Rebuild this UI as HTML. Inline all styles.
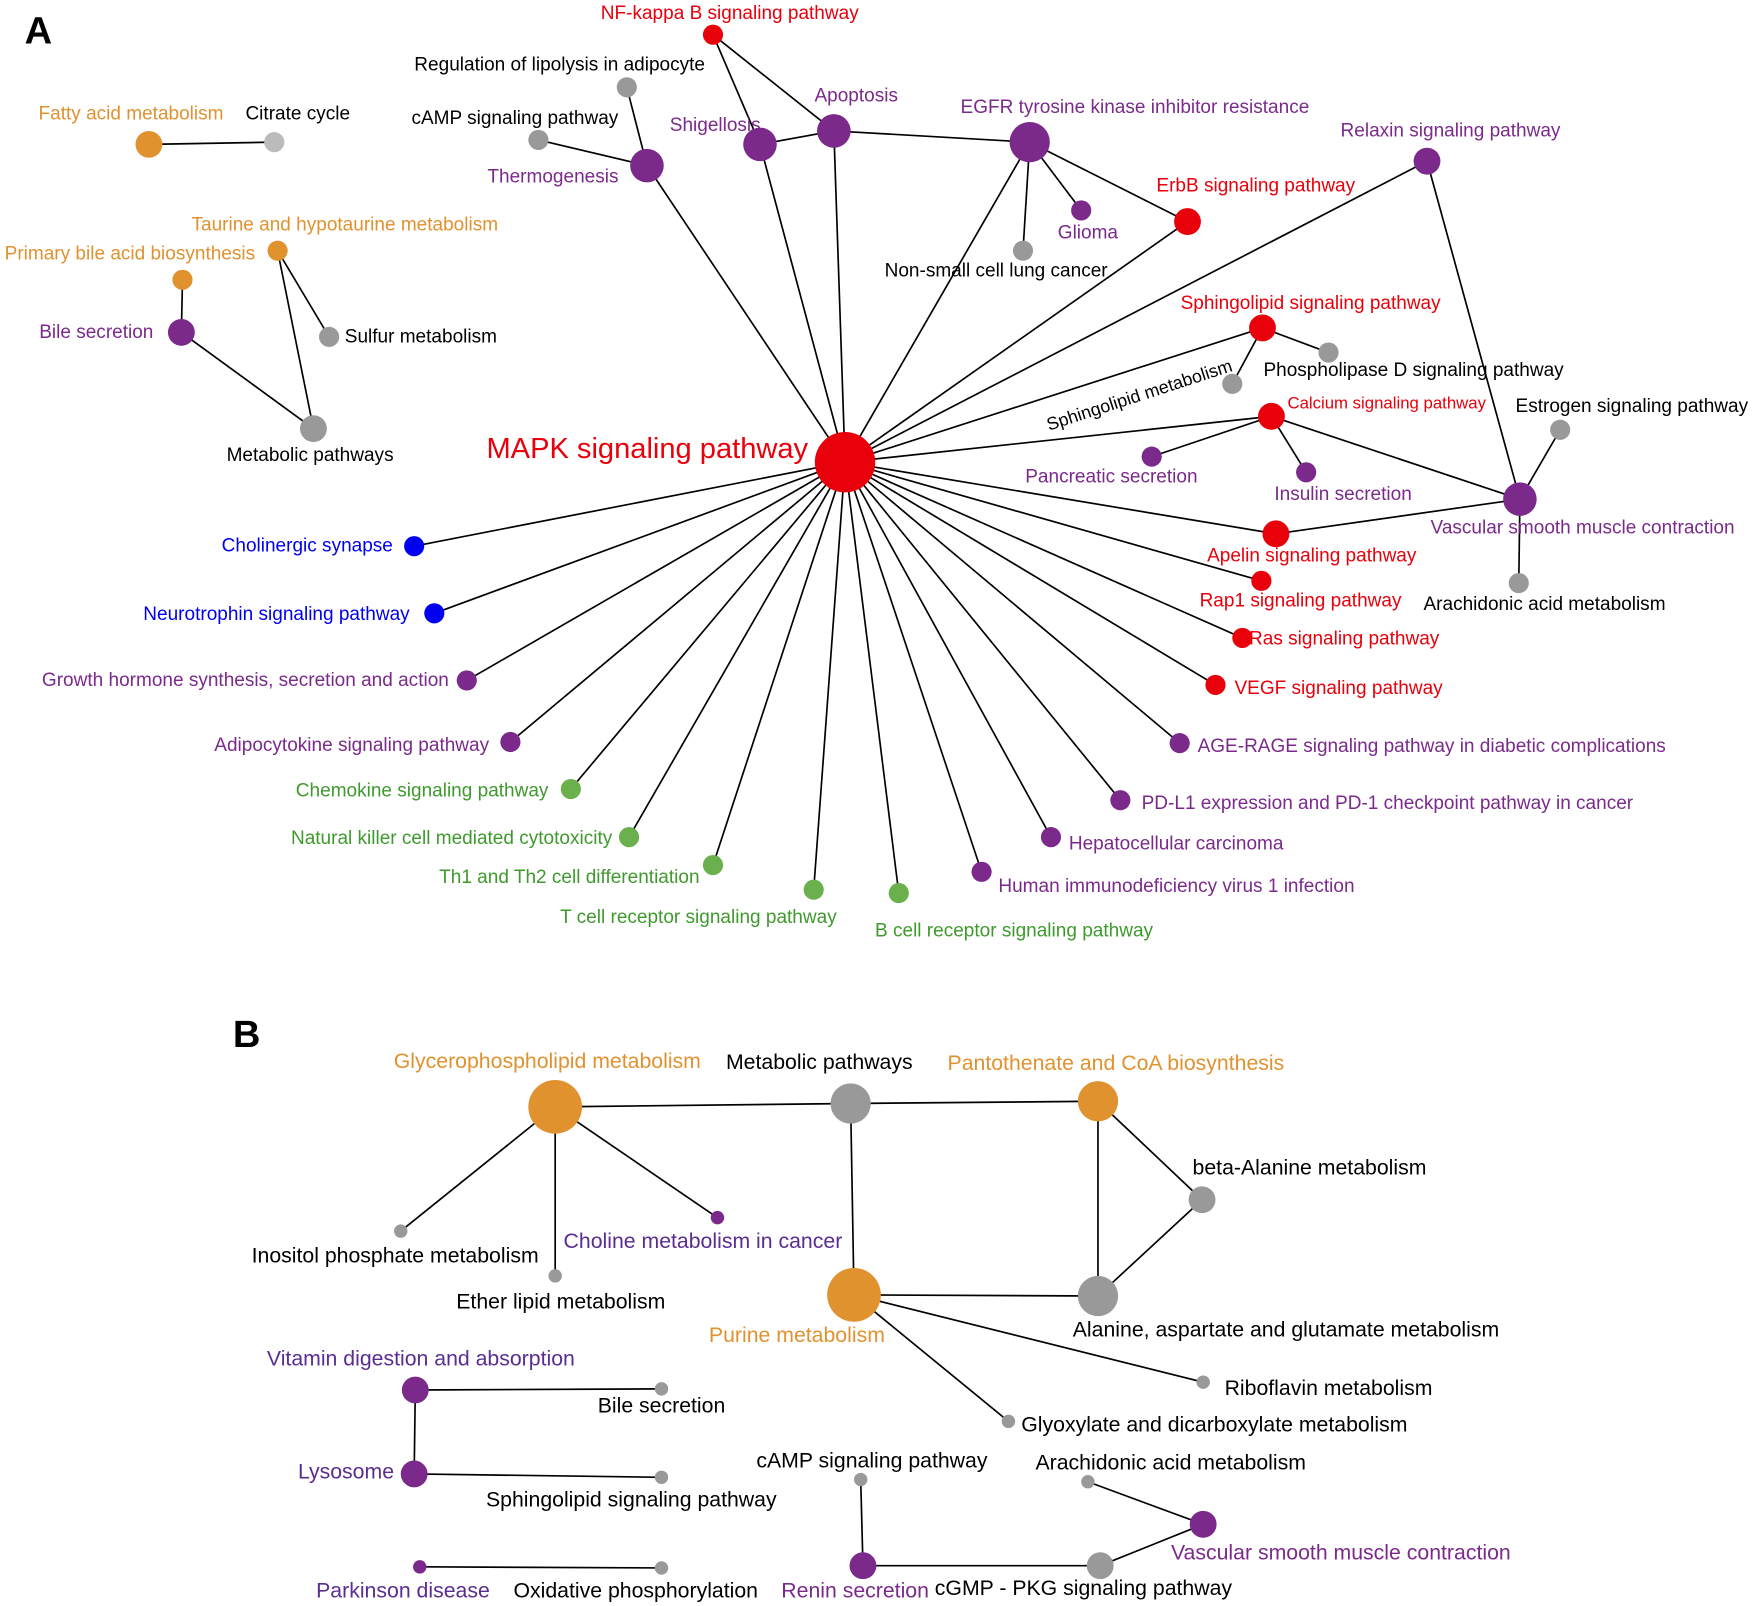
<!DOCTYPE html>
<html><head><meta charset="utf-8"><style>
html,body{margin:0;padding:0;background:#fff}
svg{display:block}
text{font-family:"Liberation Sans",Arial,sans-serif;font-size:17px;dominant-baseline:central}
.B text{font-size:19px}
.m{text-anchor:middle}.e{text-anchor:end}
.r{fill:#e8000b}.p{fill:#7b2a8c}.o{fill:#e0922f}.g{fill:#3f9a2e}.b{fill:#0000ee}.k{fill:#000}.q{fill:#5a2d91}
line{stroke:#000;stroke-width:1.5}
</style></head><body>
<svg width="1755" height="1606" viewBox="0 0 1568 1435" xmlns="http://www.w3.org/2000/svg">
<g>
<line x1="755" y1="413" x2="578" y2="148"/><line x1="755" y1="413" x2="679" y2="129"/>
<line x1="755" y1="413" x2="745" y2="117"/><line x1="755" y1="413" x2="920" y2="127"/>
<line x1="755" y1="413" x2="1061" y2="198"/><line x1="755" y1="413" x2="1275" y2="144"/>
<line x1="755" y1="413" x2="1128" y2="293"/><line x1="755" y1="413" x2="1136" y2="372"/>
<line x1="755" y1="413" x2="1140" y2="477"/><line x1="755" y1="413" x2="1127" y2="519"/>
<line x1="755" y1="413" x2="1110" y2="570"/><line x1="755" y1="413" x2="1086" y2="612"/>
<line x1="755" y1="413" x2="1054" y2="664"/><line x1="755" y1="413" x2="1001" y2="715"/>
<line x1="755" y1="413" x2="939" y2="748"/><line x1="755" y1="413" x2="877" y2="779"/>
<line x1="755" y1="413" x2="803" y2="798"/><line x1="755" y1="413" x2="727" y2="795"/>
<line x1="755" y1="413" x2="637" y2="773"/><line x1="755" y1="413" x2="562" y2="748"/>
<line x1="755" y1="413" x2="510" y2="705"/><line x1="755" y1="413" x2="456" y2="663"/>
<line x1="755" y1="413" x2="417" y2="608"/><line x1="755" y1="413" x2="388" y2="548"/>
<line x1="755" y1="413" x2="370" y2="488"/>
<line x1="637" y1="31" x2="679" y2="129"/><line x1="637" y1="31" x2="745" y2="117"/>
<line x1="679" y1="129" x2="745" y2="117"/><line x1="745" y1="117" x2="920" y2="127"/>
<line x1="560" y1="78" x2="578" y2="148"/><line x1="481" y1="125" x2="578" y2="148"/>
<line x1="920" y1="127" x2="966" y2="188"/><line x1="920" y1="127" x2="914" y2="224"/>
<line x1="920" y1="127" x2="1061" y2="198"/><line x1="1275" y1="144" x2="1358" y2="446"/>
<line x1="1128" y1="293" x2="1187" y2="315"/><line x1="1128" y1="293" x2="1101" y2="343"/>
<line x1="1136" y1="372" x2="1029" y2="408"/><line x1="1136" y1="372" x2="1167" y2="422"/>
<line x1="1136" y1="372" x2="1358" y2="446"/><line x1="1358" y1="446" x2="1394" y2="384"/>
<line x1="1358" y1="446" x2="1357" y2="521"/><line x1="1140" y1="477" x2="1358" y2="446"/>
<line x1="133" y1="129" x2="245" y2="127"/><line x1="163" y1="250" x2="162" y2="297"/>
<line x1="162" y1="297" x2="280" y2="383"/><line x1="248" y1="224" x2="294" y2="301"/>
<line x1="248" y1="224" x2="280" y2="383"/>
<line x1="496" y1="989" x2="760" y2="986"/><line x1="760" y1="986" x2="981" y2="984"/>
<line x1="496" y1="989" x2="358" y2="1100"/><line x1="496" y1="989" x2="496" y2="1140"/>
<line x1="496" y1="989" x2="641" y2="1088"/><line x1="760" y1="986" x2="763" y2="1157"/>
<line x1="981" y1="984" x2="981" y2="1158"/><line x1="981" y1="984" x2="1074" y2="1072"/>
<line x1="1074" y1="1072" x2="981" y2="1158"/><line x1="763" y1="1157" x2="981" y2="1158"/>
<line x1="763" y1="1157" x2="1075" y2="1235"/><line x1="763" y1="1157" x2="901" y2="1270"/>
<line x1="371" y1="1242" x2="591" y2="1241"/><line x1="371" y1="1242" x2="370" y2="1317"/>
<line x1="370" y1="1317" x2="591" y2="1320"/><line x1="375" y1="1400" x2="591" y2="1401"/>
<line x1="769" y1="1322" x2="771" y2="1399"/><line x1="771" y1="1399" x2="983" y2="1399"/>
<line x1="983" y1="1399" x2="1075" y2="1362"/><line x1="972" y1="1324" x2="1075" y2="1362"/>
</g>
<g>
<circle cx="755" cy="413" r="27" class="r"/>
<circle cx="637" cy="31" r="9" class="r"/><circle cx="560" cy="78" r="9" fill="#999"/>
<circle cx="481" cy="125" r="9" fill="#999"/><circle cx="578" cy="148" r="15" class="p"/>
<circle cx="679" cy="129" r="15" class="p"/><circle cx="745" cy="117" r="15" class="p"/>
<circle cx="920" cy="127" r="18" class="p"/><circle cx="966" cy="188" r="9" class="p"/>
<circle cx="914" cy="224" r="9" fill="#999"/><circle cx="1061" cy="198" r="12" class="r"/>
<circle cx="1275" cy="144" r="12" class="p"/><circle cx="1128" cy="293" r="12" class="r"/>
<circle cx="1187" cy="315" r="9" fill="#999"/><circle cx="1101" cy="343" r="9" fill="#999"/>
<circle cx="1136" cy="372" r="12" class="r"/><circle cx="1394" cy="384" r="9" fill="#999"/>
<circle cx="1029" cy="408" r="9" class="p"/><circle cx="1167" cy="422" r="9" class="p"/>
<circle cx="1358" cy="446" r="15" class="p"/><circle cx="1140" cy="477" r="12" class="r"/>
<circle cx="1357" cy="521" r="9" fill="#999"/><circle cx="1127" cy="519" r="9" class="r"/>
<circle cx="1110" cy="570" r="9" class="r"/><circle cx="1086" cy="612" r="9" class="r"/>
<circle cx="1054" cy="664" r="9" class="p"/><circle cx="1001" cy="715" r="9" class="p"/>
<circle cx="939" cy="748" r="9" class="p"/><circle cx="877" cy="779" r="9" class="p"/>
<circle cx="803" cy="798" r="9" fill="#6ab04c"/><circle cx="727" cy="795" r="9" fill="#6ab04c"/>
<circle cx="637" cy="773" r="9" fill="#6ab04c"/><circle cx="562" cy="748" r="9" fill="#6ab04c"/>
<circle cx="510" cy="705" r="9" fill="#6ab04c"/><circle cx="456" cy="663" r="9" class="p"/>
<circle cx="417" cy="608" r="9" class="p"/><circle cx="388" cy="548" r="9" class="b"/>
<circle cx="370" cy="488" r="9" class="b"/>
<circle cx="133" cy="129" r="12" class="o"/><circle cx="245" cy="127" r="9" fill="#bbb"/>
<circle cx="248" cy="224" r="9" class="o"/><circle cx="163" cy="250" r="9" class="o"/>
<circle cx="162" cy="297" r="12" class="p"/><circle cx="294" cy="301" r="9" fill="#999"/>
<circle cx="280" cy="383" r="12" fill="#999"/>
<circle cx="496" cy="989" r="24" class="o"/><circle cx="760" cy="986" r="18" fill="#999"/>
<circle cx="981" cy="984" r="18" class="o"/><circle cx="1074" cy="1072" r="12" fill="#999"/>
<circle cx="981" cy="1158" r="18" fill="#999"/><circle cx="763" cy="1157" r="24" class="o"/>
<circle cx="358" cy="1100" r="6" fill="#999"/><circle cx="496" cy="1140" r="6" fill="#999"/>
<circle cx="641" cy="1088" r="6" class="p"/><circle cx="1075" cy="1235" r="6" fill="#999"/>
<circle cx="901" cy="1270" r="6" fill="#999"/><circle cx="371" cy="1242" r="12" class="p"/>
<circle cx="591" cy="1241" r="6" fill="#999"/><circle cx="370" cy="1317" r="12" class="p"/>
<circle cx="591" cy="1320" r="6" fill="#999"/><circle cx="375" cy="1400" r="6" class="p"/>
<circle cx="591" cy="1401" r="6" fill="#999"/><circle cx="769" cy="1322" r="6" fill="#999"/>
<circle cx="972" cy="1324" r="6" fill="#999"/><circle cx="1075" cy="1362" r="12" class="p"/>
<circle cx="771" cy="1399" r="12" class="p"/><circle cx="983" cy="1399" r="12" fill="#999"/>
</g>
<g>
<text x="22" y="28" style="font-size:34px;font-weight:bold">A</text>
<text x="208" y="925" style="font-size:34px;font-weight:bold">B</text>
<text x="722" y="401" class="e r" style="font-size:26px">MAPK signaling pathway</text>
<text x="652" y="12" class="m r">NF-kappa B signaling pathway</text>
<text x="500" y="58" class="m k">Regulation of lipolysis in adipocyte</text>
<text x="460" y="106" class="m k">cAMP signaling pathway</text>
<text x="494" y="158" class="m p">Thermogenesis</text>
<text x="639" y="112" class="m p">Shigellosis</text>
<text x="765" y="86" class="m p">Apoptosis</text>
<text x="1014" y="96" class="m p">EGFR tyrosine kinase inhibitor resistance</text>
<text x="972" y="208" class="m p">Glioma</text>
<text x="890" y="242" class="m k">Non-small cell lung cancer</text>
<text x="1122" y="166" class="m r">ErbB signaling pathway</text>
<text x="1296" y="117" class="m p">Relaxin signaling pathway</text>
<text x="1171" y="271" class="m r">Sphingolipid signaling pathway</text>
<text x="1263" y="331" class="m k">Phospholipase D signaling pathway</text>
<text x="1018" y="353" class="m k" style="font-size:16px" transform="rotate(-18 1018 353)">Sphingolipid metabolism</text>
<text x="1239" y="360" class="m r" style="font-size:15px">Calcium signaling pathway</text>
<text x="1458" y="363" class="m k">Estrogen signaling pathway</text>
<text x="993" y="426" class="m p">Pancreatic secretion</text>
<text x="1200" y="442" class="m p">Insulin secretion</text>
<text x="1414" y="472" class="m p">Vascular smooth muscle contraction</text>
<text x="1172" y="497" class="m r">Apelin signaling pathway</text>
<text x="1380" y="540" class="m k">Arachidonic acid metabolism</text>
<text x="1162" y="537" class="m r">Rap1 signaling pathway</text>
<text x="1201" y="571" class="m r">Ras signaling pathway</text>
<text x="1196" y="615" class="m r">VEGF signaling pathway</text>
<text x="1070" y="667" class="p">AGE-RAGE signaling pathway in diabetic complications</text>
<text x="1020" y="718" class="p">PD-L1 expression and PD-1 checkpoint pathway in cancer</text>
<text x="955" y="754" class="p">Hepatocellular carcinoma</text>
<text x="892" y="792" class="p">Human immunodeficiency virus 1 infection</text>
<text x="906" y="832" class="m g">B cell receptor signaling pathway</text>
<text x="624" y="820" class="m g">T cell receptor signaling pathway</text>
<text x="625" y="784" class="e g">Th1 and Th2 cell differentiation</text>
<text x="547" y="749" class="e g">Natural killer cell mediated cytotoxicity</text>
<text x="490" y="707" class="e g">Chemokine signaling pathway</text>
<text x="437" y="666" class="e p">Adipocytokine signaling pathway</text>
<text x="401" y="608" class="e p">Growth hormone synthesis, secretion and action</text>
<text x="366" y="549" class="e b">Neurotrophin signaling pathway</text>
<text x="351" y="488" class="e b">Cholinergic synapse</text>
<text x="117" y="102" class="m o">Fatty acid metabolism</text>
<text x="266" y="102" class="m k">Citrate cycle</text>
<text x="308" y="201" class="m o">Taurine and hypotaurine metabolism</text>
<text x="116" y="227" class="m o">Primary bile acid biosynthesis</text>
<text x="137" y="297" class="e p">Bile secretion</text>
<text x="308" y="301" class="k">Sulfur metabolism</text>
<text x="277" y="407" class="m k">Metabolic pathways</text>
</g>
<g class="B">
<text x="489" y="948" class="m o">Glycerophospholipid metabolism</text>
<text x="732" y="949" class="m k">Metabolic pathways</text>
<text x="997" y="950" class="m o">Pantothenate and CoA biosynthesis</text>
<text x="1170" y="1043" class="m k">beta-Alanine metabolism</text>
<text x="1149" y="1188" class="m k">Alanine, aspartate and glutamate metabolism</text>
<text x="712" y="1193" class="m o">Purine metabolism</text>
<text x="353" y="1122" class="m k">Inositol phosphate metabolism</text>
<text x="501" y="1163" class="m k">Ether lipid metabolism</text>
<text x="628" y="1109" class="m q">Choline metabolism in cancer</text>
<text x="1187" y="1240" class="m k">Riboflavin metabolism</text>
<text x="1085" y="1273" class="m k">Glyoxylate and dicarboxylate metabolism</text>
<text x="376" y="1214" class="m q">Vitamin digestion and absorption</text>
<text x="591" y="1256" class="m k">Bile secretion</text>
<text x="352" y="1315" class="e q">Lysosome</text>
<text x="564" y="1340" class="m k">Sphingolipid signaling pathway</text>
<text x="360" y="1421" class="m q">Parkinson disease</text>
<text x="568" y="1421" class="m k">Oxidative phosphorylation</text>
<text x="779" y="1305" class="m k">cAMP signaling pathway</text>
<text x="1046" y="1307" class="m k">Arachidonic acid metabolism</text>
<text x="1198" y="1387" class="m p">Vascular smooth muscle contraction</text>
<text x="764" y="1421" class="m p">Renin secretion</text>
<text x="968" y="1419" class="m k">cGMP - PKG signaling pathway</text>
</g>
</svg>
</body></html>
